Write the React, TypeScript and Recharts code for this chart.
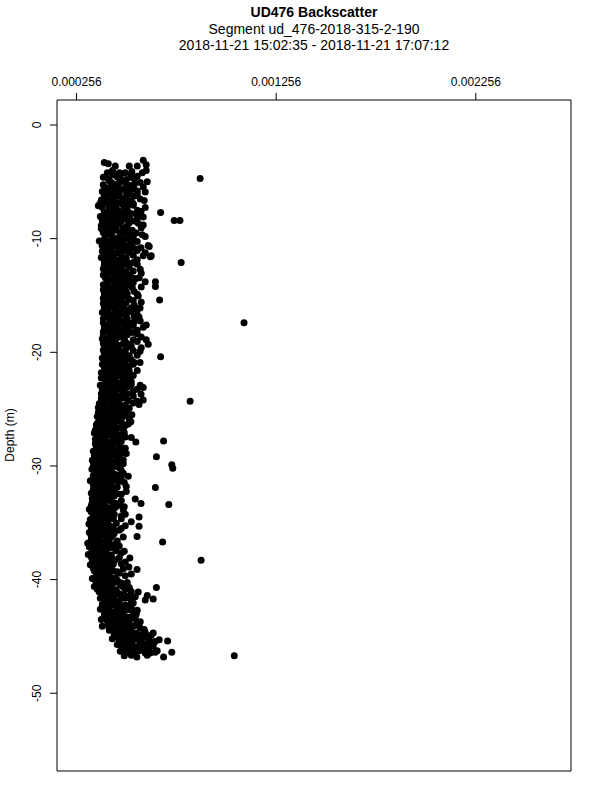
import React from "react";
import { ScatterChart, Scatter, XAxis, YAxis, ReferenceArea } from "recharts";

const titleLines = [
  "UD476 Backscatter",
  "Segment ud_476-2018-315-2-190",
  "2018-11-21 15:02:35 - 2018-11-21 17:07:12",
];

const xTicks = [0.000256, 0.001256, 0.002256];
const yTicks = [0, -10, -20, -30, -40, -50];
const xDomain = [0.000158, 0.002733];
const yDomain = [-56.84, 2.2];

// [depth m, backscatter in 1e-6 units]
const cluster: [number, number][] = [
  [-3.1, 590], [-3.3, 395], [-3.4, 415], [-3.5, 605], [-4.0, 436], [-4.1, 533], [-4.0, 605],
  [-4.6, 390], [-4.6, 461], [-4.6, 528], [-5.0, 610], [-4.3, 480], [-4.5, 560], [-4.8, 505], [-4.9, 420],
  [-5.1, 470], [-5.2, 440], [-5.3, 520], [-5.5, 400], [-5.6, 495], [-5.7, 455], [-5.8, 560], [-5.9, 430], [-5.9, 600],
  [-6.0, 470], [-6.2, 410], [-6.3, 505], [-6.4, 445], [-6.5, 575], [-6.6, 380], [-6.8, 480], [-6.9, 430], [-6.9, 540], [-6.9, 374],
  [-7.0, 455], [-7.1, 365], [-7.2, 510], [-7.4, 420], [-7.5, 560], [-7.6, 475], [-7.7, 395], [-7.8, 530], [-7.9, 445], [-7.6, 579],
  [-8.0, 490], [-8.1, 420], [-8.2, 560], [-8.4, 385], [-8.5, 470], [-8.6, 520], [-8.7, 440], [-8.8, 590], [-8.9, 400], [-8.1, 590], [-8.5, 400],
  [-9.0, 455], [-9.1, 380], [-9.2, 510], [-9.4, 430], [-9.5, 555], [-9.6, 475], [-9.7, 400], [-9.8, 600], [-9.9, 440], [-9.2, 390],
  [-10.0, 490], [-10.2, 370], [-10.3, 530], [-10.4, 450], [-10.5, 420], [-10.6, 615], [-10.7, 500], [-10.8, 390], [-10.9, 560],
  [-10.7, 620], [-10.8, 579], [-10.6, 384],
  [-11.0, 470], [-11.1, 385], [-11.2, 520], [-11.4, 440], [-11.5, 590], [-11.6, 410], [-11.8, 500], [-11.9, 455], [-11.5, 630], [-11.6, 626],
  [-12.0, 430], [-12.1, 540], [-12.3, 395], [-12.4, 480], [-12.5, 455], [-12.7, 575], [-12.8, 415], [-12.9, 505],
  [-13.0, 470], [-13.1, 440], [-13.2, 390], [-13.4, 530], [-13.5, 495], [-13.6, 420], [-13.8, 600], [-13.9, 460], [-13.5, 553],
  [-14.0, 410], [-14.2, 480], [-14.3, 535], [-14.5, 390], [-14.6, 455], [-14.7, 505], [-14.9, 430], [-14.9, 560],
  [-15.0, 470], [-15.2, 400], [-15.3, 520], [-15.4, 445], [-15.6, 580], [-15.7, 390], [-15.8, 490], [-15.9, 425],
  [-16.0, 455], [-16.1, 530], [-16.3, 405], [-16.4, 480], [-16.5, 385], [-16.7, 560], [-16.8, 440], [-16.9, 505], [-16.1, 574], [-16.9, 569],
  [-17.0, 420], [-17.2, 470], [-17.3, 545], [-17.4, 390], [-17.6, 495], [-17.7, 440], [-17.8, 590], [-17.9, 460], [-17.6, 605],
  [-18.0, 515], [-18.1, 400], [-18.3, 470], [-18.4, 560], [-18.5, 425], [-18.7, 490], [-18.8, 385], [-18.9, 540], [-18.9, 605], [-18.2, 390],
  [-19.0, 450], [-19.1, 405], [-19.3, 520], [-19.4, 470], [-19.6, 580], [-19.7, 425], [-19.8, 390], [-19.9, 495], [-19.3, 615], [-19.9, 574],
  [-20.0, 460], [-20.2, 410], [-20.3, 520], [-20.5, 385], [-20.6, 480], [-20.8, 440], [-20.9, 545], [-20.9, 574],
  [-21.0, 425], [-21.1, 500], [-21.3, 395], [-21.4, 460], [-21.6, 560], [-21.7, 435], [-21.8, 380], [-21.9, 510],
  [-22.0, 445], [-22.2, 395], [-22.3, 490], [-22.4, 415], [-22.6, 530], [-22.7, 465], [-22.9, 375], [-22.9, 575],
  [-23.0, 425], [-23.1, 480], [-23.3, 385], [-23.4, 540], [-23.5, 445], [-23.7, 579], [-23.8, 405], [-23.9, 500], [-23.1, 590],
  [-24.0, 460], [-24.1, 395], [-24.3, 560], [-24.4, 435], [-24.5, 370], [-24.7, 480], [-24.8, 415], [-24.9, 520], [-24.2, 590], [-24.6, 569],
  [-25.0, 390], [-25.1, 445], [-25.3, 365], [-25.4, 500], [-25.5, 425], [-25.7, 400], [-25.8, 470], [-25.9, 375], [-25.5, 533],
  [-26.0, 435], [-26.2, 390], [-26.3, 515], [-26.4, 355], [-26.6, 455], [-26.7, 405], [-26.8, 490], [-26.9, 375], [-26.1, 528],
  [-27.0, 425], [-27.1, 345], [-27.3, 470], [-27.4, 400], [-27.5, 530], [-27.7, 365], [-27.8, 445], [-27.9, 410], [-27.9, 553],
  [-28.0, 380], [-28.2, 435], [-28.3, 355], [-28.4, 480], [-28.6, 410], [-28.7, 340], [-28.8, 455], [-28.9, 505],
  [-29.0, 365], [-29.1, 425], [-29.3, 390], [-29.4, 460], [-29.5, 335], [-29.7, 410], [-29.8, 490], [-29.9, 355],
  [-30.0, 435], [-30.1, 380], [-30.3, 333], [-30.4, 480], [-30.6, 400], [-30.7, 445], [-30.8, 350], [-30.9, 515],
  [-31.0, 375], [-31.2, 425], [-31.3, 325], [-31.4, 465], [-31.6, 390], [-31.7, 350], [-31.8, 505], [-31.9, 410],
  [-32.0, 365], [-32.1, 445], [-32.3, 400], [-32.4, 330], [-32.5, 480], [-32.7, 380], [-32.8, 425], [-32.9, 350], [-32.9, 550],
  [-33.0, 400], [-33.2, 335], [-33.3, 455], [-33.4, 365], [-33.6, 495], [-33.7, 420], [-33.8, 320], [-33.9, 385], [-33.3, 579],
  [-34.0, 435], [-34.2, 340], [-34.3, 390], [-34.4, 480], [-34.6, 360], [-34.7, 325], [-34.8, 415], [-34.9, 530], [-34.5, 569],
  [-35.0, 375], [-35.1, 318], [-35.3, 425], [-35.4, 350], [-35.5, 480], [-35.7, 395], [-35.8, 335], [-35.9, 445], [-35.3, 569],
  [-36.0, 365], [-36.2, 330], [-36.3, 410], [-36.4, 345], [-36.6, 460], [-36.7, 385], [-36.8, 312], [-36.9, 325], [-36.2, 559],
  [-37.0, 430], [-37.1, 320], [-37.3, 360], [-37.4, 400], [-37.5, 495], [-37.7, 335], [-37.8, 315], [-37.9, 375],
  [-38.0, 330], [-38.2, 435], [-38.3, 345], [-38.4, 385], [-38.6, 480], [-38.7, 325], [-38.8, 410], [-38.9, 360], [-38.1, 523], [-38.9, 518],
  [-39.0, 340], [-39.1, 395], [-39.3, 460], [-39.4, 355], [-39.5, 530], [-39.7, 380], [-39.8, 425], [-39.9, 335], [-39.1, 559],
  [-40.0, 400], [-40.2, 365], [-40.3, 480], [-40.4, 430], [-40.6, 345], [-40.7, 520], [-40.8, 390], [-40.9, 455],
  [-41.0, 410], [-41.1, 370], [-41.3, 495], [-41.4, 445], [-41.5, 550], [-41.7, 395], [-41.8, 600], [-41.9, 470],
  [-41.1, 565], [-41.4, 610], [-41.7, 640],
  [-42.0, 430], [-42.2, 385], [-42.3, 510], [-42.4, 460], [-42.6, 375], [-42.7, 560], [-42.8, 410], [-42.9, 485],
  [-43.0, 445], [-43.1, 395], [-43.3, 525], [-43.4, 480], [-43.5, 380], [-43.7, 575], [-43.8, 425], [-43.9, 500],
  [-44.0, 460], [-44.1, 385], [-44.2, 520], [-44.3, 430], [-44.4, 595], [-44.5, 495], [-44.7, 555], [-44.7, 640], [-44.8, 445], [-44.9, 630],
  [-45.0, 480], [-45.1, 530], [-45.2, 435], [-45.3, 670], [-45.4, 580], [-45.4, 712], [-45.5, 505], [-45.6, 630], [-45.7, 460], [-45.9, 555], [-45.9, 605],
  [-46.0, 510], [-46.1, 590], [-46.3, 475], [-46.4, 650], [-46.4, 733], [-46.5, 545], [-46.7, 495], [-46.8, 558], [-46.8, 692],
];

// core of the band, where the dots pile up: [depth, values at that depth]
const coreRows: [number, number[]][] = [
  [-3.6, [450, 520, 560]], [-4.2, [410, 470, 500, 585]], [-4.4, [440, 530]], [-4.75, [475, 545, 415]],
  [-5.05, [430, 500, 575]], [-5.25, [390, 465, 545]], [-5.45, [425, 515, 590]], [-5.65, [405, 470, 535]], [-5.85, [450, 505, 385]],
  [-6.05, [430, 520, 560]], [-6.25, [470, 395, 545]], [-6.45, [410, 500]], [-6.65, [440, 530, 595]], [-6.85, [400, 465, 510]],
  [-7.05, [420, 490, 540]], [-7.25, [385, 455, 600]], [-7.45, [440, 500]], [-7.65, [420, 515, 450]], [-7.85, [395, 475, 560]],
  [-8.05, [435, 520, 375]], [-8.25, [460, 400, 500]], [-8.45, [430, 545, 480]], [-8.65, [410, 470, 565]], [-8.85, [445, 510, 380]],
  [-9.05, [420, 490, 580]], [-9.25, [455, 410, 535]], [-9.45, [390, 480, 500]], [-9.65, [430, 520, 585]], [-9.85, [470, 400, 540]],
  [-10.05, [440, 515, 395]], [-10.25, [420, 470, 560]], [-10.45, [395, 490, 535]], [-10.65, [445, 510]], [-10.85, [420, 470, 540]],
  [-11.05, [430, 500, 560]], [-11.25, [405, 455, 600]], [-11.45, [425, 480, 540]], [-11.65, [445, 505, 380]], [-11.85, [415, 475, 560]],
  [-12.05, [455, 510, 395]], [-12.25, [430, 495, 560]], [-12.45, [410, 520]], [-12.65, [440, 480, 390]], [-12.85, [460, 540, 425]],
  [-13.05, [410, 500, 580]], [-13.25, [445, 480, 520]], [-13.45, [400, 460, 570]], [-13.65, [430, 510, 475]], [-13.85, [410, 495, 540]],
  [-14.05, [450, 520, 390]], [-14.25, [425, 470, 580]], [-14.45, [440, 500, 410]], [-14.65, [420, 480, 545]], [-14.85, [460, 510, 395]],
  [-15.05, [420, 500, 565]], [-15.25, [445, 480, 390]], [-15.45, [410, 470, 540]], [-15.65, [430, 505, 455]], [-15.85, [400, 460, 545]],
  [-16.05, [420, 490, 395]], [-16.25, [450, 515, 560]], [-16.45, [415, 465, 530]], [-16.65, [440, 500, 400]], [-16.85, [470, 415, 545]],
  [-17.05, [450, 510, 390]], [-17.25, [425, 495, 575]], [-17.45, [440, 520, 470]], [-17.65, [410, 460, 540]], [-17.85, [430, 505, 395]],
  [-18.05, [445, 480, 560]], [-18.25, [420, 500, 535]], [-18.45, [455, 390, 510]], [-18.65, [430, 470, 580]], [-18.85, [415, 495, 450]],
  [-19.05, [430, 500, 560]], [-19.25, [450, 390, 490]], [-19.45, [420, 530, 465]], [-19.65, [445, 505, 400]], [-19.85, [425, 470, 540]],
  [-20.05, [430, 500, 395]], [-20.25, [450, 475, 560]], [-20.45, [420, 500, 440]], [-20.65, [400, 455, 530]], [-20.85, [415, 480, 500]],
  [-21.05, [450, 385, 540]], [-21.25, [425, 475, 520]], [-21.45, [400, 490, 440]], [-21.65, [415, 470, 520]], [-21.85, [440, 500, 395]],
  [-22.05, [420, 470, 540]], [-22.25, [440, 505, 380]], [-22.45, [450, 400, 520]], [-22.65, [420, 480, 505]], [-22.85, [440, 400, 530]],
  [-23.05, [455, 395, 510]], [-23.25, [420, 470, 560]], [-23.45, [400, 490, 450]], [-23.65, [430, 510, 380]], [-23.85, [450, 470, 540]],
  [-24.05, [420, 500, 380]], [-24.25, [440, 470, 515]], [-24.45, [400, 455, 540]], [-24.65, [420, 500, 390]], [-24.85, [445, 470, 365]],
  [-25.05, [415, 480, 510]], [-25.25, [390, 445, 470]], [-25.45, [410, 455, 380]], [-25.65, [430, 490, 360]], [-25.85, [400, 450, 520]],
  [-26.05, [380, 465, 415]], [-26.25, [420, 485, 360]], [-26.45, [395, 440, 500]], [-26.65, [375, 425, 480]], [-26.85, [410, 455, 350]],
  [-27.05, [390, 440, 495]], [-27.25, [365, 415, 455]], [-27.45, [385, 440, 500]], [-27.65, [400, 465, 350]], [-27.85, [375, 430, 480]],
  [-28.05, [405, 450, 350]], [-28.25, [385, 415, 470]], [-28.45, [360, 430, 500]], [-28.65, [395, 445, 375]], [-28.85, [370, 420, 480]],
  [-29.05, [395, 440, 345]], [-29.25, [375, 410, 470]], [-29.45, [355, 420, 490]], [-29.65, [385, 445, 340]], [-29.85, [365, 405, 460]],
  [-30.05, [390, 455, 340]], [-30.25, [360, 415, 475]], [-30.45, [380, 430, 350]], [-30.65, [365, 420, 490]], [-30.85, [390, 460, 340]],
  [-31.05, [355, 405, 480]], [-31.25, [380, 440, 345]], [-31.45, [360, 415, 495]], [-31.65, [375, 430, 340]], [-31.85, [355, 395, 460]],
  [-32.05, [390, 420, 340]], [-32.25, [360, 440, 505]], [-32.45, [375, 415, 460]], [-32.65, [350, 400, 445]], [-32.85, [370, 430, 335]],
  [-33.05, [355, 420, 480]], [-33.25, [380, 440, 345]], [-33.45, [395, 470, 330]], [-33.65, [360, 410, 450]], [-33.85, [345, 400, 490]],
  [-34.05, [370, 415, 330]], [-34.25, [355, 445, 500]], [-34.45, [340, 405, 420]], [-34.65, [375, 440, 480]], [-34.85, [350, 395, 330]],
  [-35.05, [340, 410, 455]], [-35.25, [370, 395, 500]], [-35.45, [330, 385, 440]], [-35.65, [355, 420, 470]], [-35.85, [365, 405, 320]],
  [-36.05, [340, 395, 440]], [-36.25, [355, 430, 490]], [-36.45, [330, 375, 420]], [-36.65, [350, 410, 340]], [-36.85, [360, 400, 450]],
  [-37.05, [340, 380, 470]], [-37.25, [330, 415, 440]], [-37.45, [350, 370, 455]], [-37.65, [365, 405, 480]], [-37.85, [345, 395, 430]],
  [-38.05, [360, 410, 470]], [-38.25, [335, 380, 450]], [-38.45, [355, 420, 500]], [-38.65, [340, 395, 440]], [-38.85, [370, 430, 350]],
  [-39.05, [365, 420, 490]], [-39.25, [345, 405, 440]], [-39.45, [380, 470, 420]], [-39.65, [355, 410, 500]], [-39.85, [365, 450, 395]],
  [-40.05, [350, 420, 460]], [-40.25, [385, 445, 510]], [-40.45, [365, 410, 475]], [-40.65, [380, 430, 490]], [-40.85, [360, 420, 500]],
  [-41.05, [390, 450, 530]], [-41.25, [380, 425, 470]], [-41.45, [400, 480, 520]], [-41.65, [375, 430, 500]], [-41.85, [405, 455, 530]],
  [-42.05, [395, 470, 540]], [-42.25, [415, 445, 500]], [-42.45, [395, 490, 530]], [-42.65, [420, 460, 510]], [-42.85, [400, 445, 540]],
  [-43.05, [420, 480, 555]], [-43.25, [405, 455, 500]], [-43.45, [430, 510, 550]], [-43.65, [410, 465, 520]], [-43.85, [440, 490, 560]],
  [-44.05, [415, 505, 545]], [-44.25, [450, 480, 575]], [-44.45, [420, 470, 530]], [-44.65, [445, 510, 600]], [-44.85, [470, 540, 580]],
  [-45.05, [450, 505, 600]], [-45.25, [470, 555, 620]], [-45.45, [480, 535, 650]], [-45.65, [500, 575, 600]], [-45.85, [480, 530, 640]],
  [-46.05, [490, 550, 620]], [-46.25, [520, 570, 660]], [-46.45, [500, 600, 625]], [-46.65, [530, 610]],
];

const outliers: [number, number][] = [
  [-4.7, 875], [-7.7, 677], [-8.4, 745], [-8.4, 774], [-12.1, 780], [-13.8, 651], [-14.2, 651],
  [-15.4, 672], [-17.4, 1095], [-20.4, 677], [-24.3, 825], [-27.8, 692], [-29.2, 656],
  [-29.9, 733], [-30.2, 738], [-31.9, 651], [-33.4, 718], [-36.7, 687], [-38.3, 880],
  [-40.7, 656], [-46.7, 1046],
];

const corePairs: [number, number][] = coreRows.flatMap(([d, vs]) =>
  vs.map((v) => [d, v] as [number, number])
);

const points = [...cluster, ...corePairs, ...outliers].map(([depth, v]) => ({
  depth,
  backscatter: v / 1e6,
}));

const font = "'Liberation Sans', Arial, sans-serif";

const XTick = (props: any) => (
  <text x={props.x} y={86} textAnchor="middle" fontSize={12} fontFamily={font} fill="#000">
    {Number(props.payload.value).toFixed(6)}
  </text>
);

const YTick = (props: any) => (
  <text
    x={41}
    y={props.y}
    transform={`rotate(-90, 41, ${props.y})`}
    textAnchor="middle"
    fontSize={12}
    fontFamily={font}
    fill="#000"
  >
    {String(props.payload.value)}
  </text>
);

export default function App() {
  return (
    <div style={{ position: "relative", width: 600, height: 800, background: "#fff" }}>
      <style>{"body{margin:0;}"}</style>
      <ScatterChart
        width={600}
        height={800}
        margin={{ top: 70, right: 29, bottom: 29, left: 0 }}
      >
        <XAxis
          type="number"
          dataKey="backscatter"
          orientation="top"
          domain={xDomain}
          ticks={xTicks}
          allowDataOverflow
          height={30}
          tickSize={7}
          axisLine={false}
          tickLine={{ stroke: "#000" }}
          tick={<XTick />}
        />
        <YAxis
          type="number"
          dataKey="depth"
          domain={yDomain}
          ticks={yTicks}
          allowDataOverflow
          width={57}
          tickSize={7}
          axisLine={false}
          tickLine={{ stroke: "#000" }}
          tick={<YTick />}
        />
        <ReferenceArea
          x1={xDomain[0]}
          x2={xDomain[1]}
          y1={yDomain[0]}
          y2={yDomain[1]}
          fill="none"
          stroke="#000"
          strokeWidth={1}
        />
        <Scatter
          data={points}
          isAnimationActive={false}
          shape={(p: any) => <circle cx={p.cx} cy={p.cy} r={3.5} fill="#000" />}
        />
      </ScatterChart>
      <svg
        width={600}
        height={800}
        style={{ position: "absolute", left: 0, top: 0, pointerEvents: "none" }}
      >
        {titleLines.map((t, i) => (
          <text
            key={t}
            x={314}
            y={17 + i * 16.5}
            textAnchor="middle"
            fontSize={14}
            fontWeight={i === 0 ? "bold" : "normal"}
            fontFamily={font}
            fill="#000"
          >
            {t}
          </text>
        ))}
        <text
          x={14}
          y={435}
          transform="rotate(-90, 14, 435)"
          textAnchor="middle"
          fontSize={12}
          fontFamily={font}
          fill="#000"
        >
          Depth (m)
        </text>
      </svg>
    </div>
  );
}
